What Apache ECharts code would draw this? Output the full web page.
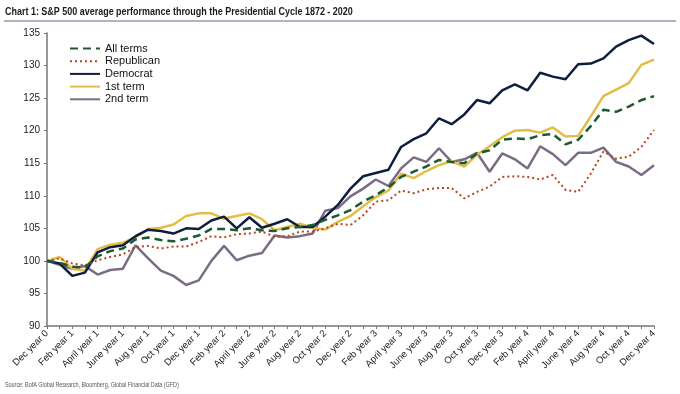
<!DOCTYPE html>
<html>
<head>
<meta charset="utf-8">
<script src="https://cdn.jsdelivr.net/npm/echarts@6/dist/echarts.min.js"></script>
<style>
html,body{margin:0;padding:0;background:#fff;}
#c{width:680px;height:394px;}
</style>
</head>
<body>
<div id="c"></div>
<script>
var months = ["Dec year 0","Jan year 1","Feb year 1","Mar year 1","April year 1","May year 1","June year 1","July year 1","Aug year 1","Sep year 1","Oct year 1","Nov year 1",
"Dec year 1","Jan year 2","Feb year 2","Mar year 2","April year 2","May year 2","June year 2","July year 2","Aug year 2","Sep year 2","Oct year 2","Nov year 2",
"Dec year 2","Jan year 3","Feb year 3","Mar year 3","April year 3","May year 3","June year 3","July year 3","Aug year 3","Sep year 3","Oct year 3","Nov year 3",
"Dec year 3","Jan year 4","Feb year 4","Mar year 4","April year 4","May year 4","June year 4","July year 4","Aug year 4","Sep year 4","Oct year 4","Nov year 4","Dec year 4"];

var allTerms = [100,99.7,99.1,99.0,100.7,101.5,101.9,103.3,103.6,103.2,103.0,103.4,103.9,104.9,104.9,104.7,
105.0,104.7,104.6,105.0,105.2,105.5,106.3,107.0,107.8,109.1,110.1,111.3,112.9,113.7,114.5,115.5,
115.2,115.0,116.5,117.0,118.6,118.8,118.7,119.3,119.5,117.9,118.6,120.7,123.2,122.9,123.7,124.7,125.3];

var republican = [100,100.4,99.6,99.3,100.1,100.6,101.0,102.1,102.3,101.9,102.2,102.2,102.9,103.8,103.6,104.1,
104.2,104.5,103.7,103.8,104.5,104.5,105.0,105.7,105.5,107.0,109.1,109.3,110.8,110.4,111.0,111.2,
111.2,109.6,110.6,111.4,112.9,113.0,112.9,112.5,113.2,110.9,110.6,113.4,116.8,115.7,116.0,117.5,120.1];

var democrat = [100,99.6,97.7,98.2,101.3,102.1,102.4,103.8,104.8,104.6,104.2,105.0,104.9,106.2,106.8,105.0,
106.7,105.1,105.7,106.4,105.2,105.2,106.8,108.6,111.1,113.0,113.5,114.0,117.5,118.7,119.6,121.9,
121.0,122.5,124.7,124.2,126.2,127.1,126.2,128.9,128.3,127.9,130.2,130.3,131.1,132.9,133.9,134.6,133.3];

var firstTerm = [100,100.6,98.8,98.5,101.8,102.5,102.8,103.6,104.9,105.1,105.6,106.9,107.3,107.3,106.5,106.9,
107.3,106.4,104.7,105.2,105.7,105.1,104.8,106.0,106.9,108.4,109.8,110.8,113.4,112.7,113.8,114.7,
115.3,114.5,116.3,117.6,119.0,120.0,120.1,119.7,120.5,119.1,119.2,122.2,125.3,126.3,127.3,130.1,130.9];

var secondTerm = [100,99.4,98.8,99.2,97.9,98.6,98.8,102.4,100.4,98.5,97.7,96.3,97.0,100.0,102.3,100.1,
100.8,101.2,103.9,103.6,103.8,104.2,107.7,108.1,109.9,111.1,112.5,111.5,114.2,115.9,115.2,117.3,
115.2,115.6,116.6,113.7,116.5,115.6,114.2,117.6,116.4,114.7,116.6,116.6,117.4,115.2,114.5,113.2,114.7];

var yTicks = {min: 90, max: 135, step: 5};

var chart = echarts.init(document.getElementById('c'), null, {renderer: 'canvas'});
var FONT = 'Liberation Sans, Arial, sans-serif';

function mk(name, data, color, width, type, z) {
  return {
    name: name, type: 'line', data: data, symbol: 'none', smooth: false, z: z,
    lineStyle: {color: color, width: width, type: type, cap: 'butt'},
    itemStyle: {color: color}
  };
}

chart.setOption({
  animation: false,
  backgroundColor: '#fff',
  graphic: [
    {type: 'text', x: 5, y: 6, scaleX: 0.815, scaleY: 1,
     style: {text: 'Chart 1: S&P 500 average performance through the Presidential Cycle 1872 - 2020', font: 'bold 11px ' + FONT, fill: '#1a1a1a'}},
    {type: 'line', shape: {x1: 4, y1: 21, x2: 676, y2: 21}, style: {stroke: '#5a6b80', lineWidth: 1}},
    {type: 'text', x: 5, y: 381, scaleX: 0.72, scaleY: 1,
     style: {text: 'Source: BofA Global Research, Bloomberg, Global Financial Data (GFD)', font: '7.5px ' + FONT, fill: '#555'}}
  ],
  legend: {
    orient: 'vertical', left: 64, top: 38,
    itemWidth: 30, itemHeight: 10, itemGap: 1.7,
    itemStyle: {opacity: 0},
    textStyle: {fontFamily: FONT, fontSize: 11, color: '#111', padding: [0,0,0,0]},
    data: ['All terms','Republican','Democrat','1st term','2nd term']
  },
  grid: {left: 47, right: 26, top: 33, bottom: 68, containLabel: false},
  xAxis: {
    type: 'category', data: months, boundaryGap: false,
    axisLine: {lineStyle: {color: '#777', width: 1.5}},
    axisTick: {show: true, interval: 0, length: 3, lineStyle: {color: '#777'}},
    axisLabel: {interval: 1, rotate: 45, fontFamily: FONT, fontSize: 9.5, color: '#222', margin: 6},
    splitLine: {show: false}
  },
  yAxis: {
    type: 'value', min: yTicks.min, max: yTicks.max, interval: yTicks.step,
    axisLine: {show: true, lineStyle: {color: '#777', width: 1.5}},
    axisTick: {show: true, length: 3, lineStyle: {color: '#777'}},
    axisLabel: {fontFamily: FONT, fontSize: 10, color: '#222', margin: 7},
    splitLine: {show: false}
  },
  series: [
    mk('All terms', allTerms, '#1d5a32', 2.5, [8,5], 5),
    mk('Republican', republican, '#b8451e', 2, [2,3], 4),
    mk('Democrat', democrat, '#0f1e3d', 2.5, 'solid', 3),
    mk('1st term', firstTerm, '#e3bd45', 2.5, 'solid', 2),
    mk('2nd term', secondTerm, '#7b6c86', 2.5, 'solid', 1)
  ]
});
</script>
</body>
</html>
